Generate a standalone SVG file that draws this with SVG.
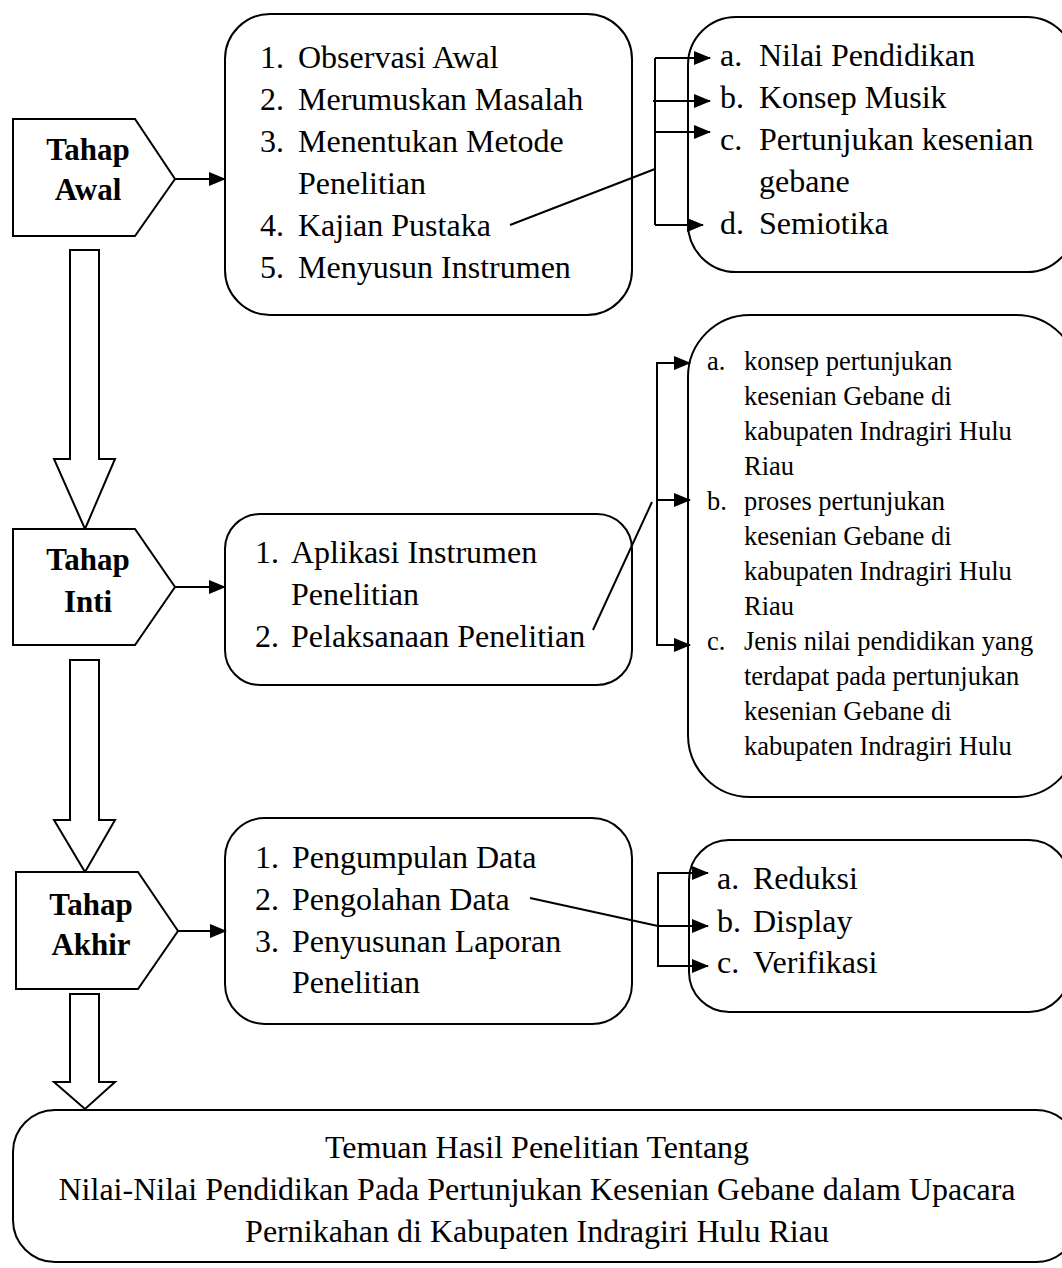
<svg xmlns="http://www.w3.org/2000/svg" width="1062" height="1268" viewBox="0 0 1062 1268">
<defs>
<marker id="ah" markerWidth="17" markerHeight="14" refX="16" refY="7" orient="auto" markerUnits="userSpaceOnUse"><path d="M0,0 L17,7 L0,14 z" fill="#000"/></marker>
<style>
.box{fill:#fff;stroke:#000;stroke-width:2}
.ln{fill:none;stroke:#000;stroke-width:2}
.t{font-family:"Liberation Serif","Times New Roman",serif;font-size:32px;fill:#000}
.ts{font-family:"Liberation Serif","Times New Roman",serif;font-size:26.5px;fill:#000}
.tb{font-family:"Liberation Serif","Times New Roman",serif;font-size:31px;font-weight:bold;fill:#000;text-anchor:middle}
</style>
</defs>
<rect width="1062" height="1268" fill="#fff"/>

<g id="arrow-big-1"><path class="box" d="M70,250 H99 V459 H115 L85,529 L54,459 H70 Z"/></g>
<g id="arrow-big-2"><path class="box" d="M70,660 H99 V820 H115 L85,872 L54,820 H70 Z"/></g>
<g id="arrow-big-3"><path class="box" d="M70,994 H99 V1082 H115 L85,1109 L54,1082 H70 Z"/></g>

<g id="tahap-awal">
<path class="box" d="M13,119 H135 L175,179 L135,236 H13 Z"/>
<text class="tb" x="88" y="160">Tahap</text>
<text class="tb" x="88" y="200">Awal</text>
</g>
<g id="tahap-inti">
<path class="box" d="M13,529 H135 L175,587 L135,645 H13 Z"/>
<text class="tb" x="88" y="570">Tahap</text>
<text class="tb" x="88" y="612">Inti</text>
</g>
<g id="tahap-akhir">
<path class="box" d="M16,872 H138 L178,931 L138,989 H16 Z"/>
<text class="tb" x="91" y="915">Tahap</text>
<text class="tb" x="91" y="955">Akhir</text>
</g>

<g id="box-awal">
<rect class="box" x="225" y="14" width="407" height="301" rx="45" ry="45"/>
<text class="t" x="260" y="68">1.</text><text class="t" x="298" y="68">Observasi Awal</text>
<text class="t" x="260" y="110">2.</text><text class="t" x="298" y="110">Merumuskan Masalah</text>
<text class="t" x="260" y="152">3.</text><text class="t" x="298" y="152">Menentukan Metode</text>
<text class="t" x="298" y="194">Penelitian</text>
<text class="t" x="260" y="236">4.</text><text class="t" x="298" y="236">Kajian Pustaka</text>
<text class="t" x="260" y="278">5.</text><text class="t" x="298" y="278">Menyusun Instrumen</text>
</g>
<g id="box-awal-detail">
<rect class="box" x="688" y="17" width="387" height="255" rx="48" ry="48"/>
<text class="t" x="720" y="66">a.</text><text class="t" x="759" y="66">Nilai Pendidikan</text>
<text class="t" x="720" y="108">b.</text><text class="t" x="759" y="108">Konsep Musik</text>
<text class="t" x="720" y="150">c.</text><text class="t" x="759" y="150">Pertunjukan kesenian</text>
<text class="t" x="759" y="192">gebane</text>
<text class="t" x="720" y="234">d.</text><text class="t" x="759" y="234">Semiotika</text>
</g>

<g id="box-inti">
<rect class="box" x="225" y="514" width="407" height="171" rx="35" ry="35"/>
<text class="t" x="255" y="563">1.</text><text class="t" x="291" y="563">Aplikasi Instrumen</text>
<text class="t" x="291" y="605">Penelitian</text>
<text class="t" x="255" y="647">2.</text><text class="t" x="291" y="647">Pelaksanaan Penelitian</text>
</g>
<g id="box-inti-detail">
<rect class="box" x="688" y="315" width="390" height="482" rx="62" ry="62"/>
<text class="ts" x="707" y="370">a.</text><text class="ts" x="744" y="370">konsep pertunjukan</text>
<text class="ts" x="744" y="405">kesenian Gebane di</text>
<text class="ts" x="744" y="440">kabupaten Indragiri Hulu</text>
<text class="ts" x="744" y="475">Riau</text>
<text class="ts" x="707" y="510">b.</text><text class="ts" x="744" y="510">proses pertunjukan</text>
<text class="ts" x="744" y="545">kesenian Gebane di</text>
<text class="ts" x="744" y="580">kabupaten Indragiri Hulu</text>
<text class="ts" x="744" y="615">Riau</text>
<text class="ts" x="707" y="650">c.</text><text class="ts" x="744" y="650">Jenis nilai pendidikan yang</text>
<text class="ts" x="744" y="685">terdapat pada pertunjukan</text>
<text class="ts" x="744" y="720">kesenian Gebane di</text>
<text class="ts" x="744" y="755">kabupaten Indragiri Hulu</text>
</g>

<g id="box-akhir">
<rect class="box" x="225" y="818" width="407" height="206" rx="40" ry="40"/>
<text class="t" x="255" y="868">1.</text><text class="t" x="292" y="868">Pengumpulan Data</text>
<text class="t" x="255" y="910">2.</text><text class="t" x="292" y="910">Pengolahan Data</text>
<text class="t" x="255" y="952">3.</text><text class="t" x="292" y="952">Penyusunan Laporan</text>
<text class="t" x="292" y="993">Penelitian</text>
</g>
<g id="box-akhir-detail">
<rect class="box" x="689" y="840" width="380" height="172" rx="40" ry="40"/>
<text class="t" x="717" y="889">a.</text><text class="t" x="753" y="889">Reduksi</text>
<text class="t" x="717" y="932">b.</text><text class="t" x="753" y="932">Display</text>
<text class="t" x="717" y="973">c.</text><text class="t" x="753" y="973">Verifikasi</text>
</g>

<g id="box-temuan">
<rect class="box" x="13" y="1110" width="1065" height="152" rx="42" ry="42"/>
<text class="t" x="537" y="1158" text-anchor="middle">Temuan Hasil Penelitian Tentang</text>
<text class="t" x="537" y="1200" text-anchor="middle">Nilai-Nilai Pendidikan Pada Pertunjukan Kesenian Gebane dalam Upacara</text>
<text class="t" x="537" y="1242" text-anchor="middle">Pernikahan di Kabupaten Indragiri Hulu Riau</text>
</g>

<g id="connectors">
<line class="ln" x1="175" y1="179" x2="225" y2="179" marker-end="url(#ah)"/>
<line class="ln" x1="175" y1="587" x2="225" y2="587" marker-end="url(#ah)"/>
<line class="ln" x1="178" y1="931" x2="226" y2="931" marker-end="url(#ah)"/>

<line class="ln" x1="510" y1="225" x2="655" y2="169"/>
<line class="ln" x1="655" y1="58" x2="655" y2="225"/>
<line class="ln" x1="655" y1="58" x2="710" y2="58" marker-end="url(#ah)"/>
<line class="ln" x1="653" y1="101" x2="710" y2="101" marker-end="url(#ah)"/>
<line class="ln" x1="656" y1="132" x2="710" y2="132" marker-end="url(#ah)"/>
<line class="ln" x1="655" y1="225" x2="703" y2="225" marker-end="url(#ah)"/>

<line class="ln" x1="593" y1="630" x2="652" y2="502"/>
<line class="ln" x1="657" y1="363" x2="657" y2="645"/>
<line class="ln" x1="656" y1="363" x2="690" y2="363" marker-end="url(#ah)"/>
<line class="ln" x1="657" y1="500" x2="690" y2="500" marker-end="url(#ah)"/>
<line class="ln" x1="656" y1="645" x2="690" y2="645" marker-end="url(#ah)"/>

<line class="ln" x1="530" y1="898" x2="658" y2="926"/>
<line class="ln" x1="658" y1="873" x2="658" y2="966"/>
<line class="ln" x1="657" y1="873" x2="708" y2="873" marker-end="url(#ah)"/>
<line class="ln" x1="658" y1="926" x2="708" y2="926" marker-end="url(#ah)"/>
<line class="ln" x1="657" y1="966" x2="708" y2="966" marker-end="url(#ah)"/>
</g>
</svg>
